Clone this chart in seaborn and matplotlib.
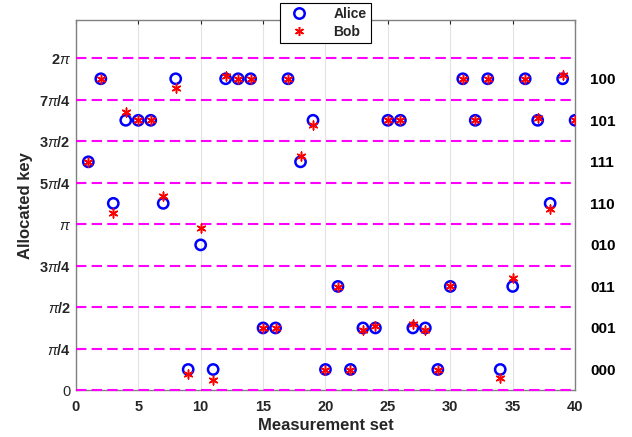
import numpy as np
import pandas as pd
import seaborn as sns
import matplotlib.pyplot as plt
from matplotlib.lines import Line2D

# key levels (centre of each pi/4 band) and the 3-bit code of each band
p8 = np.pi / 8
codes = ['000', '001', '011', '010', '110', '111', '101', '100']
levels = [p8 * (2 * i + 1) for i in range(8)]

sets = list(range(1, 41))
# Alice's allocated band index per measurement set (0 -> 000 ... 7 -> 100)
alice_band = [5, 7, 4, 6, 6, 6, 4, 7, 0, 3,
              0, 7, 7, 7, 1, 1, 7, 5, 6, 0,
              2, 0, 1, 1, 6, 6, 1, 1, 0, 2,
              7, 6, 7, 0, 2, 7, 6, 4, 7, 6]
alice = [levels[b] for b in alice_band]
bob = [4.32, 5.89, 3.36, 5.27, 5.11, 5.11, 3.68, 5.72, 0.30, 3.06,
       0.19, 5.94, 5.89, 5.89, 1.17, 1.18, 5.89, 4.43, 5.02, 0.39,
       1.96, 0.38, 1.14, 1.22, 5.11, 5.11, 1.25, 1.14, 0.39, 1.97,
       5.89, 5.11, 5.89, 0.24, 2.12, 5.89, 5.15, 3.42, 5.96, 5.11]

left_ticks = [k * np.pi / 4 for k in range(9)]
left_labels = ['0', r'$\pi\mathbf{/4}$', r'$\pi\mathbf{/2}$', r'$\mathbf{3}\pi\mathbf{/4}$',
               r'$\pi$', r'$\mathbf{5}\pi\mathbf{/4}$', r'$\mathbf{3}\pi\mathbf{/2}$',
               r'$\mathbf{7}\pi\mathbf{/4}$', r'$\mathbf{2}\pi$']

df = pd.DataFrame({'set': sets, 'Alice': alice, 'Bob': bob})

sns.set_style('white')
plt.rcParams['font.family'] = ['Liberation Sans', 'DejaVu Sans']
plt.rcParams['mathtext.fontset'] = 'custom'
plt.rcParams['mathtext.rm'] = 'Liberation Sans:bold'
plt.rcParams['mathtext.bf'] = 'Liberation Sans:bold'
plt.rcParams['mathtext.it'] = 'Liberation Sans:italic'

fig = plt.figure(figsize=(6.32, 4.37), dpi=100)
ax = fig.add_axes([0.120, 0.107, 0.790, 0.847])

ax.grid(axis='x', color='#e3e3e3', lw=0.8)
for t in left_ticks:
    ax.axhline(t, color='#ff00ff', ls=(0, (5, 2.5)), lw=1.5, zorder=5, clip_on=False)

sns.scatterplot(data=df, x='set', y='Alice', ax=ax, marker='o', s=55,
                facecolor='none', edgecolor='#0000ff', linewidth=1.8, zorder=6)
sns.scatterplot(data=df, x='set', y='Bob', ax=ax, marker=(6, 2, 0), s=40,
                color='#ff0000', edgecolor='#ff0000', linewidth=1.1, zorder=7)

ax.set_xlim(0, 40)
ax.set_ylim(0, 7)
ax.set_xticks(range(0, 41, 5))
ax.set_yticks(left_ticks)
ax.set_yticklabels(left_labels)
ax.set_xlabel('Measurement set', fontsize=12, fontweight='bold', labelpad=3)
ax.set_ylabel('Allocated key', fontsize=12, fontweight='bold', labelpad=4)
ax.tick_params(axis='both', direction='in', labelsize=10.5, colors='#262626',
               length=3, top=True)
ax.tick_params(axis='x', pad=7)
for lab in ax.get_xticklabels():
    lab.set_fontweight('bold')
for sp in ax.spines.values():
    sp.set_color('#808080')
    sp.set_linewidth(1)

ax2 = ax.twinx()
ax2.set_ylim(0, 7)
ax2.set_yticks(levels)
ax2.set_yticklabels(codes, fontweight='bold')
ax2.tick_params(axis='y', length=0, labelsize=11, pad=11, colors='#000000')
for sp in ax2.spines.values():
    sp.set_visible(False)

handles = [Line2D([], [], ls='none', marker='o', ms=7.5, mfc='none', mec='#0000ff', mew=1.8),
           Line2D([], [], ls='none', marker=(6, 2, 0), ms=6.5, mec='#ff0000', mew=1.1)]
leg = fig.legend(handles, ['Alice', 'Bob'], loc='upper center',
                 bbox_to_anchor=(0.515, 0.993), borderaxespad=0, frameon=True, fancybox=False,
                 edgecolor='#000000', framealpha=1, borderpad=0.3,
                 handletextpad=1.5, labelspacing=0.25, prop={'weight': 'bold', 'size': 10})
leg.get_frame().set_linewidth(0.8)

fig.savefig('out.png', dpi=100)
